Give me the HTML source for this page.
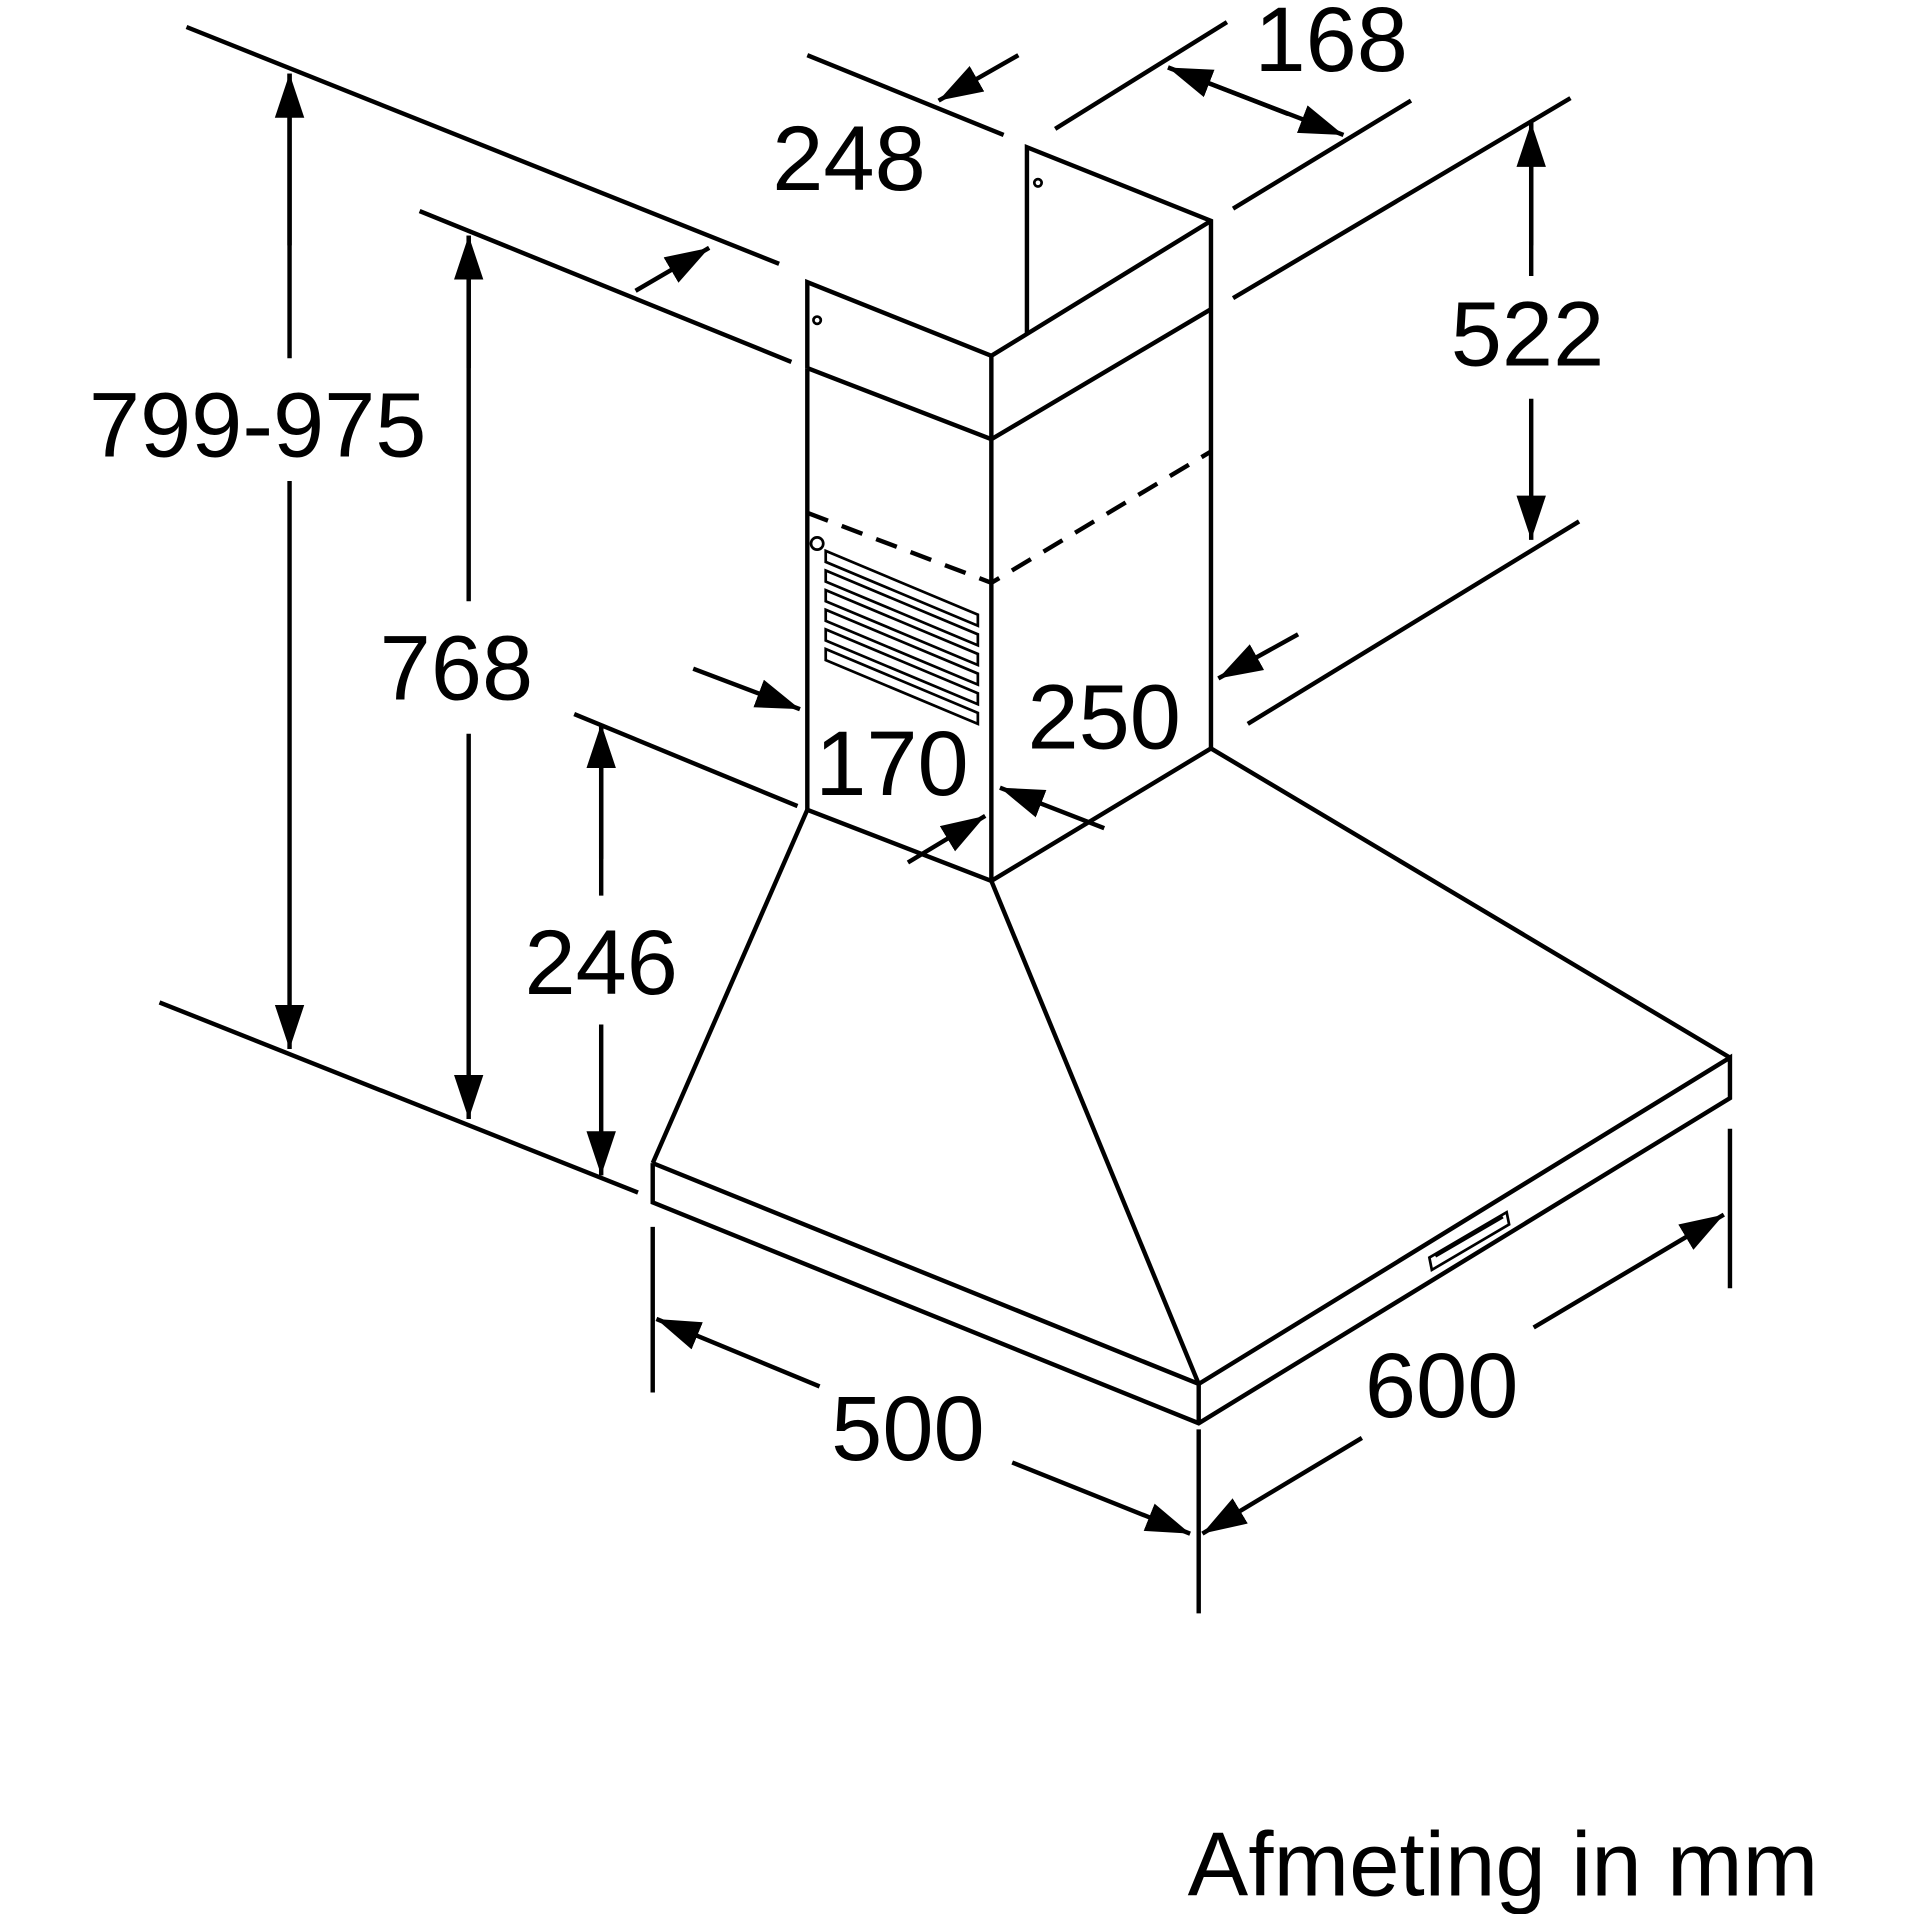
<!DOCTYPE html>
<html><head><meta charset="utf-8"><style>html,body{margin:0;padding:0;background:#fff}svg{display:block}text{font-family:"Liberation Sans",sans-serif;fill:#000}</style></head><body>
<svg width="1914" height="1914" viewBox="0 0 1560 1560" xmlns="http://www.w3.org/2000/svg">
<defs>
<marker id="h" viewBox="-36 -13 36 26" refX="0" refY="0" markerWidth="36" markerHeight="26" markerUnits="userSpaceOnUse" orient="auto"><path d="M0,0 L-36,-12 L-36,12Z"/></marker></defs>
<g stroke="#000" stroke-width="3.6" fill="none" stroke-linecap="butt">
<line x1="152" y1="22" x2="635" y2="215"/>
<line x1="342" y1="172" x2="645" y2="295"/>
<line x1="468" y1="582" x2="650" y2="657"/>
<line x1="130" y1="817" x2="520" y2="972"/>
<line x1="658" y1="45" x2="818" y2="110"/>
<line x1="860" y1="105" x2="1000" y2="18"/>
<line x1="1005" y1="170" x2="1150" y2="82"/>
<line x1="1005" y1="243" x2="1280" y2="80"/>
<line x1="1017" y1="590" x2="1287" y2="425"/>
<line x1="532" y1="1000" x2="532" y2="1135"/>
<line x1="977" y1="1165" x2="977" y2="1315"/>
<line x1="1410" y1="920" x2="1410" y2="1050"/>
<line x1="236" y1="200" x2="236" y2="60" marker-end="url(#h)"/>
<line x1="236" y1="60" x2="236" y2="292"/>
<line x1="236" y1="392" x2="236" y2="855" marker-end="url(#h)"/>
<line x1="382" y1="192" x2="382" y2="490"/>
<line x1="382" y1="598" x2="382" y2="912" marker-end="url(#h)"/>
<line x1="490" y1="590" x2="490" y2="730"/>
<line x1="490" y1="835" x2="490" y2="958" marker-end="url(#h)"/>
<line x1="1248" y1="100" x2="1248" y2="225"/>
<line x1="1248" y1="325" x2="1248" y2="440" marker-end="url(#h)"/>
<line x1="952" y1="55" x2="1095" y2="110" marker-end="url(#h)"/>
<line x1="830" y1="45" x2="765" y2="82" marker-end="url(#h)"/>
<line x1="518" y1="237" x2="578" y2="202" marker-end="url(#h)"/>
<line x1="565" y1="545" x2="652" y2="578" marker-end="url(#h)"/>
<line x1="740" y1="703" x2="803" y2="665" marker-end="url(#h)"/>
<line x1="1058" y1="517" x2="993" y2="553" marker-end="url(#h)"/>
<line x1="900" y1="675" x2="815" y2="642" marker-end="url(#h)"/>
<line x1="668" y1="1130" x2="535" y2="1075" marker-end="url(#h)"/>
<line x1="825" y1="1192" x2="970" y2="1250" marker-end="url(#h)"/>
<line x1="1110" y1="1172" x2="980" y2="1250" marker-end="url(#h)"/>
<line x1="1250" y1="1082" x2="1405" y2="990" marker-end="url(#h)"/>
<line x1="382" y1="300" x2="382" y2="192" marker-end="url(#h)"/>
<line x1="490" y1="700" x2="490" y2="590" marker-end="url(#h)"/>
<line x1="1248" y1="200" x2="1248" y2="100" marker-end="url(#h)"/>
<line x1="1050" y1="93" x2="952" y2="55" marker-end="url(#h)"/>
<polyline points="837,272 837,120 987,180 987,610"/>
<polyline points="658,300 658,230 808,290 987,180"/>
<line x1="808" y1="290" x2="808" y2="718"/>
<polyline points="658,300 808,358 987,252"/>
<line x1="658" y1="300" x2="658" y2="660"/>
<polyline points="658,418 808,475 987,368" stroke-dasharray="18,12"/>
<polyline points="658,660 808,718 987,610"/>
<line x1="658" y1="660" x2="532" y2="948"/>
<line x1="808" y1="718" x2="977" y2="1128"/>
<line x1="987" y1="610" x2="1410" y2="862"/>
<polyline points="532,948 977,1128 1410,862 1410,895 977,1160 532,980 532,948"/>
<line x1="977" y1="1128" x2="977" y2="1160"/>
</g>
<g stroke="#000" stroke-width="2.2" fill="none">
<circle cx="666" cy="261" r="3"/><circle cx="846" cy="149" r="3"/><circle cx="666" cy="443" r="5"/>
<path d="M673,449 L797,501 L797,510 L673,458Z M673,465 L797,517 L797,526 L673,474Z M673,481 L797,533 L797,542 L673,490Z M673,497 L797,549 L797,558 L673,506Z M673,513 L797,565 L797,574 L673,522Z M673,529 L797,581 L797,590 L673,538Z"/>
<path d="M1165,1025 L1228,988 L1230,998 L1167,1035Z M1170,1024 L1225,992" />
</g>
<g font-size="75" text-anchor="middle">
<text x="210" y="372">799-975</text>
<text x="372" y="570">768</text>
<text x="490" y="810">246</text>
<text x="1245" y="298">522</text>
<text x="1085" y="58">168</text>
<text x="692" y="155">248</text>
<text x="727" y="648">170</text>
<text x="900" y="610">250</text>
<text x="740" y="1190">500</text>
<text x="1175" y="1155">600</text>
<text x="1225" y="1545" font-size="74">Afmeting in mm</text>
</g>
</svg>
</body></html>
